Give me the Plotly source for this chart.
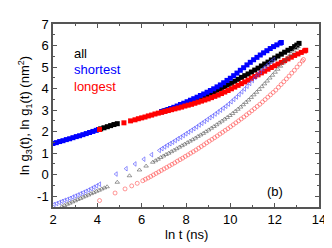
import plotly.graph_objects as go

# ---- upper series: ln g1(t), filled squares ----
short_up_x = [2.0, 2.15, 2.3, 2.45, 2.6, 2.75, 2.9, 3.05, 3.2, 3.35, 3.5, 3.65, 3.8, 3.95, 4.05,
              6.9, 7.0, 7.15, 7.3, 7.45, 7.6, 7.75, 7.9, 8.05, 8.2, 8.35, 8.5, 8.65, 8.8, 8.95,
              9.1, 9.25, 9.4, 9.55, 9.7, 9.85, 10.0, 10.15, 10.3, 10.45, 10.6, 10.75, 10.9,
              11.05, 11.2, 11.35, 11.5, 11.65, 11.8, 11.95, 12.1, 12.25, 12.3]
short_up_y = [1.45, 1.49, 1.54, 1.58, 1.63, 1.67, 1.72, 1.77, 1.81, 1.86, 1.91, 1.96, 2.01, 2.06, 2.10,
              2.93, 2.96, 3.01, 3.07, 3.13, 3.19, 3.26, 3.32, 3.39, 3.46, 3.53, 3.60, 3.68, 3.75, 3.83,
              3.91, 3.99, 4.08, 4.17, 4.27, 4.38, 4.48, 4.60, 4.72, 4.85, 4.97, 5.10, 5.22,
              5.34, 5.45, 5.56, 5.66, 5.76, 5.86, 5.95, 6.03, 6.11, 6.14]

all_up_x = [4.15, 4.3, 4.45, 4.6, 4.75, 4.9,
            6.9, 7.05, 7.2, 7.35, 7.5, 7.65, 7.8, 7.95, 8.1, 8.25, 8.4, 8.55, 8.7, 8.85, 9.0,
            9.15, 9.3, 9.45, 9.6, 9.75, 9.9, 10.05, 10.2, 10.35, 10.5, 10.65, 10.8, 10.95,
            11.1, 11.25, 11.4, 11.55, 11.7, 11.85, 12.0, 12.15, 12.3, 12.45, 12.6, 12.75,
            12.9, 13.0, 13.1]
all_up_y = [2.13, 2.18, 2.23, 2.28, 2.33, 2.37,
            2.92, 2.97, 3.02, 3.07, 3.12, 3.17, 3.22, 3.27, 3.33, 3.39, 3.45, 3.51, 3.57, 3.64, 3.71,
            3.78, 3.85, 3.93, 4.01, 4.09, 4.17, 4.25, 4.34, 4.43, 4.52, 4.60, 4.68, 4.77,
            4.86, 4.95, 5.05, 5.14, 5.23, 5.33, 5.42, 5.51, 5.60, 5.69, 5.78, 5.86,
            5.95, 6.02, 6.10]

long_up_x = [4.1, 5.2, 5.5, 5.7, 5.85, 6.0, 6.15, 6.3, 6.45, 6.6, 6.75, 6.9, 7.05, 7.2, 7.35,
             7.5, 7.65, 7.8, 7.95, 8.1, 8.25, 8.4, 8.55, 8.7, 8.85, 9.0, 9.15, 9.3, 9.45, 9.6,
             9.75, 9.9, 10.05, 10.2, 10.35, 10.5, 10.65, 10.8, 10.95, 11.1, 11.25, 11.4, 11.55,
             11.7, 11.85, 12.0, 12.15, 12.3, 12.45, 12.6, 12.75, 12.9, 13.05, 13.2, 13.35, 13.4]
long_up_y = [2.10, 2.41, 2.50, 2.55, 2.60, 2.64, 2.68, 2.73, 2.77, 2.82, 2.86, 2.90, 2.94, 2.98, 3.02,
             3.06, 3.10, 3.14, 3.19, 3.23, 3.27, 3.32, 3.37, 3.42, 3.47, 3.52, 3.58, 3.64, 3.70, 3.77,
             3.84, 3.91, 3.99, 4.07, 4.15, 4.23, 4.31, 4.39, 4.48, 4.56, 4.64, 4.73, 4.81,
             4.90, 4.98, 5.06, 5.14, 5.22, 5.30, 5.38, 5.46, 5.54, 5.61, 5.68, 5.75, 5.78]

# ---- lower series: ln g3(t), open symbols ----
short_lo_x = [2.05, 2.17, 2.29, 2.41, 2.53, 2.65, 2.77, 2.89, 3.01, 3.13, 3.25, 3.37, 3.49, 3.61,
              3.73, 3.85, 3.97, 4.1,
              4.85, 5.3, 5.7, 6.1, 6.45,
              6.8, 6.92, 7.04, 7.16, 7.28, 7.4, 7.52, 7.64, 7.76, 7.88, 8.0, 8.12, 8.24, 8.36,
              8.48, 8.6, 8.72, 8.84, 8.96, 9.08, 9.2, 9.32, 9.44, 9.56, 9.68, 9.8, 9.92, 10.04,
              10.16, 10.28, 10.4, 10.52, 10.64, 10.76, 10.88, 11.0, 11.12, 11.24, 11.36, 11.48,
              11.6, 11.72, 11.84, 11.96]
short_lo_y = [-1.38, -1.34, -1.29, -1.24, -1.19, -1.15, -1.10, -1.04, -0.99, -0.94, -0.88, -0.83, -0.77, -0.71,
              -0.65, -0.58, -0.52, -0.44,
              0.03, 0.28, 0.50, 0.72, 0.93,
              1.13, 1.21, 1.29, 1.37, 1.44, 1.51, 1.59, 1.67, 1.74, 1.82, 1.90, 1.98, 2.06, 2.14,
              2.22, 2.31, 2.39, 2.48, 2.56, 2.65, 2.73, 2.82, 2.91, 3.00, 3.09, 3.18, 3.28, 3.39,
              3.50, 3.61, 3.73, 3.85, 3.98, 4.11, 4.24, 4.38, 4.52, 4.65, 4.78, 4.91,
              5.03, 5.14, 5.25, 5.35]

all_lo_x = [2.4, 2.52, 2.64, 2.76, 2.88, 3.0, 3.12, 3.24, 3.36, 3.48, 3.6, 3.72, 3.84, 3.96,
            4.08, 4.2, 4.32, 4.44,
            4.9, 5.45, 5.9, 6.2,
            6.5, 6.62, 6.74, 6.86, 6.98, 7.1, 7.22, 7.34, 7.46, 7.58, 7.7, 7.82, 7.94, 8.06,
            8.18, 8.3, 8.42, 8.54, 8.66, 8.78, 8.9, 9.02, 9.14, 9.26, 9.38, 9.5, 9.62, 9.74,
            9.86, 9.98, 10.1, 10.22, 10.34, 10.46, 10.58, 10.7, 10.82, 10.94, 11.06, 11.18,
            11.3, 11.42, 11.54, 11.66, 11.78, 11.9, 12.02, 12.14, 12.26, 12.38, 12.5, 12.62,
            12.74, 12.86, 12.98, 13.05]
all_lo_y = [-1.48, -1.43, -1.37, -1.32, -1.26, -1.21, -1.15, -1.10, -1.04, -0.99, -0.94, -0.88, -0.83, -0.77,
            -0.72, -0.66, -0.61, -0.56,
            -0.35, -0.05, 0.22, 0.40,
            0.58, 0.65, 0.72, 0.80, 0.87, 0.94, 1.00, 1.07, 1.14, 1.21, 1.28, 1.35, 1.42, 1.49,
            1.56, 1.63, 1.70, 1.78, 1.85, 1.92, 2.00, 2.08, 2.16, 2.24, 2.32, 2.41, 2.49, 2.58,
            2.66, 2.75, 2.84, 2.94, 3.04, 3.14, 3.25, 3.36, 3.47, 3.59, 3.71, 3.83,
            3.96, 4.09, 4.22, 4.35, 4.49, 4.62, 4.76, 4.90, 5.04, 5.19, 5.33, 5.47,
            5.61, 5.75, 5.87, 5.95]

long_lo_x = [4.1, 4.8, 5.25, 5.55, 5.8,
             6.05, 6.17, 6.29, 6.41, 6.53, 6.65, 6.77, 6.89, 7.01, 7.13, 7.25, 7.37, 7.49, 7.61,
             7.73, 7.85, 7.97, 8.09, 8.21, 8.33, 8.45, 8.57, 8.69, 8.81, 8.93, 9.05, 9.17, 9.29,
             9.41, 9.53, 9.65, 9.77, 9.89, 10.01, 10.13, 10.25, 10.37, 10.49, 10.61, 10.73,
             10.85, 10.97, 11.09, 11.21, 11.33, 11.45, 11.57, 11.69, 11.81, 11.93, 12.05, 12.17,
             12.29, 12.41, 12.53, 12.65, 12.77, 12.89, 13.01, 13.13, 13.25, 13.3]
long_lo_y = [-1.20, -0.85, -0.66, -0.52, -0.40,
             -0.28, -0.21, -0.15, -0.08, -0.01, 0.06, 0.13, 0.20, 0.27, 0.34, 0.41, 0.48, 0.55, 0.63,
             0.70, 0.77, 0.85, 0.92, 1.00, 1.07, 1.15, 1.23, 1.31, 1.39, 1.48, 1.56, 1.64, 1.72,
             1.80, 1.89, 1.97, 2.06, 2.14, 2.23, 2.32, 2.41, 2.50, 2.59, 2.68, 2.78,
             2.87, 2.97, 3.07, 3.17, 3.27, 3.38, 3.49, 3.60, 3.71, 3.82, 3.93, 4.06,
             4.19, 4.32, 4.45, 4.58, 4.72, 4.85, 5.00, 5.14, 5.28, 5.35]

legend_labels = ["all", "shortest", "longest"]
x_ticks = [2, 4, 6, 8, 10, 12, 14]
y_ticks = [-1, 0, 1, 2, 3, 4, 5, 6, 7]
x_title = "ln t (ns)"
y_title = "ln g<sub>3</sub>(t), ln g<sub>1</sub>(t) (nm<sup>2</sup>)"

BLUE = "#0000ff"
RED = "#ff0000"
BLACK = "#000000"
AXC = "#555555"
FONT = "Liberation Sans, Arial, sans-serif"

fig = go.Figure()

def add_open(x, y, color, symbol):
    fig.add_trace(go.Scatter(x=x, y=y, mode="markers", showlegend=False,
                             marker=dict(symbol=symbol, size=4, color=color,
                                         line=dict(width=0.6, color=color))))

def add_filled(x, y, color):
    fig.add_trace(go.Scatter(x=x, y=y, mode="markers", showlegend=False,
                             marker=dict(symbol="square", size=5, color=color,
                                         line=dict(width=0))))

add_filled(all_up_x, all_up_y, BLACK)
add_filled(short_up_x, short_up_y, BLUE)
add_filled(long_up_x, long_up_y, RED)
add_open(all_lo_x, all_lo_y, "#555555", "triangle-up-open")
add_open(short_lo_x, short_lo_y, "#4a4aff", "triangle-left-open")
add_open(long_lo_x, long_lo_y, "#ff5050", "circle-open")

legend_y = [5.62, 4.88, 4.09]
for lab, col, yy in zip(legend_labels, [BLACK, BLUE, RED], legend_y):
    fig.add_annotation(x=2.84, y=yy, text=lab, showarrow=False, xanchor="left",
                       yanchor="middle", font=dict(size=13, color=col, family=FONT))
fig.add_annotation(x=12.02, y=-0.78, text="(b)", showarrow=False,
                   font=dict(size=13, color=BLACK, family=FONT))

# axis titles as annotations for exact placement
fig.add_annotation(xref="paper", yref="paper", x=0.5015, y=-0.153, text=x_title,
                   showarrow=False, xanchor="center", yanchor="middle",
                   font=dict(size=13, color=BLACK, family=FONT))
fig.add_annotation(xref="paper", yref="paper", x=-0.105, y=0.497, text=y_title,
                   showarrow=False, xanchor="center", yanchor="middle", textangle=-90,
                   font=dict(size=13, color=BLACK, family=FONT))

axis_common = dict(showline=True, linecolor=AXC, linewidth=1.5, mirror="ticks",
                   ticks="inside", ticklen=4, tickwidth=1, tickcolor=AXC,
                   showgrid=False, zeroline=False, automargin=False,
                   tickfont=dict(size=13, color=BLACK, family=FONT))

fig.update_xaxes(range=[2, 14], tickvals=x_ticks, ticktext=[str(v) for v in x_ticks],
                 minor=dict(ticks="inside", ticklen=2, dtick=1, tick0=2, tickcolor=AXC),
                 **axis_common)
fig.update_yaxes(range=[-1.5, 7], tickvals=y_ticks, ticktext=[str(v) for v in y_ticks],
                 minor=dict(ticks="inside", ticklen=2, dtick=0.5, tick0=0, tickcolor=AXC),
                 **axis_common)

# page body has an 8px default margin: figure is sized/offset to compensate
fig.update_layout(width=324, height=240, margin=dict(l=45, r=13, t=16, b=41),
                  plot_bgcolor="white", paper_bgcolor="white", showlegend=False)

fig.write_html("out.html")
